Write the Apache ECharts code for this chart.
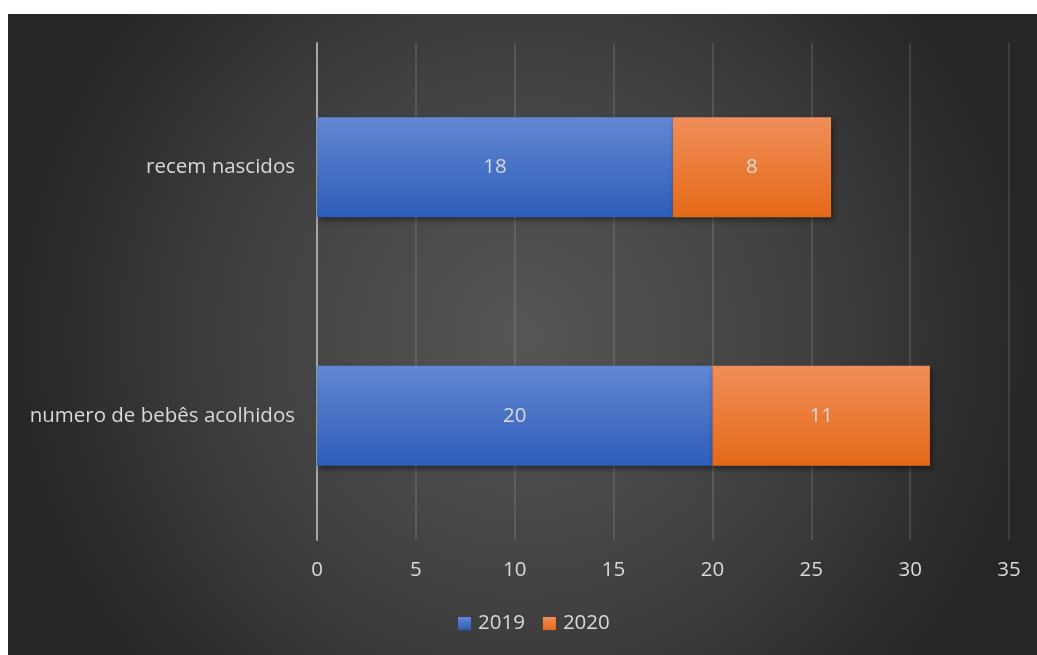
<!DOCTYPE html>
<html>
<head>
<meta charset="utf-8">
<script src="https://cdn.jsdelivr.net/npm/echarts@6/dist/echarts.min.js"></script>
<style>
  html, body { margin: 0; padding: 0; background: #ffffff; width: 1037px; height: 655px; overflow: hidden; }
  #chart { position: absolute; left: 8px; top: 14px; width: 1029px; height: 641px; }
</style>
</head>
<body>
<div id="chart"></div>
<script>
// Categories listed bottom-to-top on the vertical axis
const categories = ['numero de bebês acolhidos', 'recem nascidos'];
const years = ['2019', '2020'];
const values2019 = [20, 18];
const values2020 = [11, 8];

const FONT = "'Open Sans', 'Noto Sans', sans-serif";
const TEXT = '#d9d9d9';
const FS = 20.5;

function vGrad(top, bottom) {
  return new echarts.graphic.LinearGradient(0, 0, 0, 1, [
    { offset: 0, color: top },
    { offset: 1, color: bottom }
  ]);
}

function barSeries(name, data, top, bottom) {
  return {
    name: name,
    type: 'bar',
    stack: 'total',
    data: data,
    barWidth: 100,
    itemStyle: {
      color: vGrad(top, bottom),
      shadowColor: 'rgba(0,0,0,0.45)',
      shadowBlur: 6,
      shadowOffsetX: 2,
      shadowOffsetY: 3
    },
    label: {
      show: true,
      position: 'inside',
      color: TEXT,
      fontFamily: FONT,
      fontSize: FS
    },
    emphasis: { disabled: true }
  };
}

const chart = echarts.init(document.getElementById('chart'), null, { renderer: 'canvas' });
chart.setOption({
  animation: false,
  backgroundColor: new echarts.graphic.RadialGradient(0.5, 0.5, 0.8, [
    { offset: 0, color: '#565656' },
    { offset: 0.55, color: '#404040' },
    { offset: 1, color: '#262626' }
  ]),
  textStyle: { fontFamily: FONT },
  grid: { left: 309, right: 28, top: 29, bottom: 115, containLabel: false },
  legend: {
    data: years,
    bottom: 16,
    left: 445,
    itemWidth: 13,
    itemHeight: 13,
    itemGap: 18,
    icon: 'rect',
    textStyle: { color: TEXT, fontSize: FS, fontFamily: FONT, padding: [0, 0, 0, 2] }
  },
  xAxis: {
    type: 'value',
    min: 0,
    max: 35,
    interval: 5,
    axisLine: { show: false },
    axisTick: { show: false },
    axisLabel: { color: TEXT, fontSize: FS, fontFamily: FONT, margin: 20 },
    splitLine: { show: true, lineStyle: { color: 'rgba(217,217,217,0.14)', width: 2 } }
  },
  yAxis: {
    type: 'category',
    data: categories,
    axisLine: { show: true, lineStyle: { color: '#a6a6a6', width: 2 } },
    axisTick: { show: false },
    axisLabel: { color: TEXT, fontSize: FS, fontFamily: FONT, margin: 22 }
  },
  series: [
    barSeries(years[0], values2019, '#6387d3', '#2d5db8'),
    barSeries(years[1], values2020, '#f08e5a', '#e56916')
  ]
});
</script>
</body>
</html>
